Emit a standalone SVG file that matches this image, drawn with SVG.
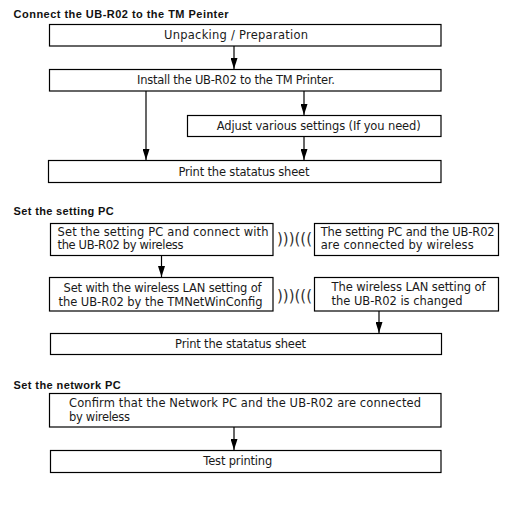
<svg xmlns="http://www.w3.org/2000/svg" width="532" height="513" viewBox="0 0 532 513">
<style>
.box{fill:#fff;stroke:#000;stroke-width:1.2}
.t{font-family:"DejaVu Sans",sans-serif;font-size:11.5px;fill:#1a1a1a}
.c{text-anchor:middle}
.h{font-family:"Liberation Sans",Arial,sans-serif;font-size:11px;font-weight:bold;fill:#111}
.w{font-family:"DejaVu Sans",sans-serif;font-size:15px;fill:#333}
.ln{stroke:#000;stroke-width:1.2;fill:none;marker-end:url(#ah)}
</style>
<defs>
<marker id="ah" viewBox="0 0 11 7" refX="11" refY="3.5" markerWidth="11" markerHeight="7" markerUnits="userSpaceOnUse" orient="auto">
<path d="M0,0 L11,3.5 L0,7 Z" fill="#000"/>
</marker>
</defs>
<rect width="532" height="513" fill="#fff"/>
<text class="h" x="13.6" y="17.5" textLength="215">Connect the UB-R02 to the TM Peinter</text>
<text class="h" x="13.6" y="215" textLength="100">Set the setting PC</text>
<text class="h" x="13.6" y="388.5" textLength="107">Set the network PC</text>
<g id="connectors">
<line class="ln" x1="234" y1="46" x2="234" y2="69"/>
<line class="ln" x1="146" y1="91" x2="146" y2="160"/>
<line class="ln" x1="304" y1="91" x2="304" y2="115"/>
<line class="ln" x1="304" y1="136" x2="304" y2="160"/>
<line class="ln" x1="161.5" y1="256" x2="161.5" y2="277"/>
<line class="ln" x1="379" y1="311" x2="379" y2="333"/>
<line class="ln" x1="234" y1="427" x2="234" y2="450"/>
<text class="w" x="277" y="244" textLength="35">)))(((</text>
<text class="w" x="277" y="300.5" textLength="35">)))(((</text>
</g>
<g id="n1"><rect class="box" x="49.5" y="24.5" width="391.5" height="21.5"/><text class="t c" x="236" y="38.5" textLength="144">Unpacking / Preparation</text></g>
<g id="n2"><rect class="box" x="49.5" y="69.5" width="391.5" height="21.5"/><text class="t c" x="236" y="84" textLength="198">Install the UB-R02 to the TM Printer.</text></g>
<g id="n3"><rect class="box" x="187.5" y="115.5" width="253.5" height="21"/><text class="t c" x="318.7" y="130" textLength="204">Adjust various settings (If you need)</text></g>
<g id="n4"><rect class="box" x="48.5" y="160.5" width="392.5" height="22"/><text class="t c" x="244" y="176" textLength="131">Print the statatus sheet</text></g>
<g id="n5"><rect class="box" x="50.5" y="223.5" width="222.5" height="32"/><text class="t" x="57.5" y="235.5" textLength="211">Set the setting PC and connect with</text><text class="t" x="57.5" y="248.5" textLength="126">the UB-R02 by wireless</text></g>
<g id="n6"><rect class="box" x="314.5" y="223.5" width="184" height="32"/><text class="t" x="320.7" y="235.5" textLength="174">The setting PC and the UB-R02</text><text class="t" x="320.7" y="248.5" textLength="153">are connected by wireless</text></g>
<g id="n7"><rect class="box" x="49.5" y="277.5" width="223.5" height="33.5"/><text class="t" x="63.6" y="292" textLength="198">Set with the wireless LAN setting of</text><text class="t" x="58.5" y="305.5" textLength="204">the UB-R02 by the TMNetWinConfig</text></g>
<g id="n8"><rect class="box" x="314.5" y="277.5" width="184" height="33.5"/><text class="t" x="331.6" y="290.5" textLength="154">The wireless LAN  setting of</text><text class="t" x="331.6" y="304.5" textLength="131">the UB-R02 is changed</text></g>
<g id="n9"><rect class="box" x="50.5" y="333.5" width="391" height="21"/><text class="t c" x="240.6" y="347.5" textLength="131">Print the statatus sheet</text></g>
<g id="n10"><rect class="box" x="49.5" y="393.5" width="391.5" height="33.5"/><text class="t" x="69" y="406.5" textLength="352">Confirm that the Network PC and the UB-R02 are connected</text><text class="t" x="69" y="420.5" textLength="61">by wireless</text></g>
<g id="n11"><rect class="box" x="50.5" y="450.5" width="390.5" height="22"/><text class="t c" x="237.8" y="464.5" textLength="69">Test printing</text></g>
</svg>
